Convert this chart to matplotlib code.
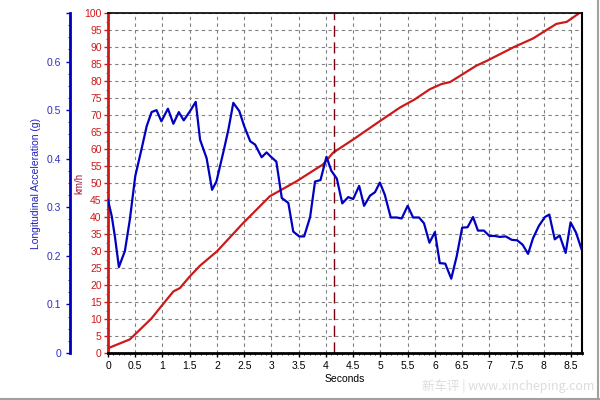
import matplotlib
matplotlib.use('Agg')
import matplotlib.pyplot as plt
from matplotlib.ticker import MultipleLocator
from matplotlib.lines import Line2D

# speed trace (km/h)
t_speed = [0, 0.4, 0.53, 0.8, 0.95, 1.2, 1.32, 1.5, 1.69, 2.0, 2.48, 2.97, 3.46,
           3.95, 4.13, 4.5, 4.99, 5.36, 5.63, 5.91, 6.12, 6.28, 6.76, 6.95, 7.44,
           7.8, 8.23, 8.42, 8.69]
speed = [1.4, 4.0, 6.0, 10.2, 13.2, 18.1, 19.1, 22.5, 25.7, 29.9, 38.2, 46.1, 50.5,
         55.5, 58.9, 62.8, 68.2, 72.2, 74.6, 77.6, 79.1, 79.7, 84.5, 85.9, 89.9,
         92.5, 96.8, 97.4, 100.4]

# longitudinal acceleration (g)
t_acc = [0, 0.07, 0.13, 0.2, 0.31, 0.4, 0.5, 0.62, 0.71, 0.8, 0.89, 0.98, 1.1, 1.2,
         1.3, 1.39, 1.5, 1.61, 1.69, 1.81, 1.91, 1.99, 2.12, 2.21, 2.3, 2.41, 2.5,
         2.61, 2.7, 2.82, 2.91, 3.0, 3.09, 3.19, 3.31, 3.4, 3.51, 3.6, 3.71, 3.8,
         3.9, 4.01, 4.1, 4.2, 4.3, 4.41, 4.5, 4.61, 4.7, 4.81, 4.9, 4.99, 5.08,
         5.19, 5.3, 5.39, 5.5, 5.6, 5.71, 5.8, 5.9, 6.0, 6.09, 6.19, 6.3, 6.4, 6.5,
         6.6, 6.7, 6.79, 6.9, 7.0, 7.1, 7.19, 7.3, 7.41, 7.51, 7.61, 7.71, 7.8,
         7.91, 8.02, 8.1, 8.2, 8.29, 8.4, 8.49, 8.59, 8.69]
accel = [0.315, 0.281, 0.237, 0.177, 0.210, 0.274, 0.364, 0.422, 0.467, 0.496, 0.500,
         0.477, 0.503, 0.472, 0.496, 0.479, 0.497, 0.517, 0.439, 0.401, 0.336, 0.353,
         0.415, 0.460, 0.515, 0.498, 0.467, 0.436, 0.429, 0.403, 0.413, 0.403, 0.394,
         0.319, 0.309, 0.250, 0.240, 0.240, 0.280, 0.353, 0.356, 0.404, 0.375, 0.359,
         0.308, 0.321, 0.317, 0.344, 0.303, 0.324, 0.331, 0.351, 0.326, 0.279, 0.279,
         0.277, 0.303, 0.279, 0.279, 0.267, 0.227, 0.249, 0.185, 0.184, 0.153, 0.199,
         0.258, 0.259, 0.280, 0.252, 0.252, 0.241, 0.241, 0.239, 0.240, 0.233, 0.232,
         0.223, 0.204, 0.236, 0.262, 0.280, 0.285, 0.234, 0.242, 0.206, 0.269, 0.248,
         0.214]

marker_t = 4.15

plt.rcParams['font.family'] = ['Liberation Sans', 'DejaVu Sans']
plt.rcParams['font.size'] = 7.5

RED = '#cc1a1a'
BLUE = '#0000c0'

fig = plt.figure(figsize=(6, 4), dpi=100)
ax = fig.add_axes([0.18, 0.1175, 0.79, 0.85])

ax.plot(t_speed, speed, color=RED, lw=1.6)
ax.axvline(marker_t, color='#7a0010', lw=1.0, dashes=(8, 4))
ax.set_xlim(0, 8.7)
ax.set_ylim(0, 100)
ax.xaxis.set_major_locator(MultipleLocator(0.5))
ax.xaxis.set_minor_locator(MultipleLocator(0.1))
ax.yaxis.set_major_locator(MultipleLocator(5))
ax.yaxis.set_minor_locator(MultipleLocator(2.5))
ax.xaxis.set_major_formatter(plt.FuncFormatter(lambda v, p: f'{v:g}'))
ax.grid(True, color='#808080', lw=0.8, dashes=(3, 3))
ax.tick_params(axis='y', colors=RED, labelcolor=RED, length=3, width=1, pad=1.5)
ax.tick_params(axis='y', which='minor', colors=RED, length=1.5)
ax.tick_params(axis='x', length=3, width=1, pad=3, colors='black')
ax.tick_params(axis='x', which='minor', length=1.5)
ax.set_xlabel('Seconds', labelpad=2)
ax.set_ylabel('km/h', color='#a01030', fontsize=7, labelpad=0)
ax.spines['left'].set_color(RED)
ax.spines['left'].set_linewidth(2)
ax.spines['bottom'].set_linewidth(2)
ax.spines['top'].set_linewidth(1.2)
ax.spines['right'].set_linewidth(1.5)

ax2 = ax.twinx()
ax2.plot(t_acc, accel, color=BLUE, lw=1.6)
ax2.set_ylim(0, 0.7)
ax2.yaxis.set_label_position('left')
ax2.yaxis.tick_left()
ax2.spines['left'].set_position(('outward', 27.4))
ax2.spines['left'].set_color(BLUE)
ax2.spines['left'].set_linewidth(2)
ax2.spines['right'].set_visible(False)
ax2.spines['top'].set_visible(False)
ax2.spines['bottom'].set_visible(False)
ax2.yaxis.set_major_locator(MultipleLocator(0.1))
ax2.yaxis.set_minor_locator(MultipleLocator(0.025))
ax2.yaxis.set_major_formatter(plt.FuncFormatter(lambda v, p: f'{v:g}' if v < 0.69 else ''))
ax2.tick_params(axis='y', colors=BLUE, labelcolor='#3030c0', length=3, width=1, pad=3.5)
ax2.tick_params(axis='y', which='minor', colors=BLUE, length=1.5)
ax2.set_ylabel('Longitudinal Acceleration (g)', color='#2020c0', labelpad=4)

# watermark and outer frame
fig.text(0.99, 0.035, '新车评 | www.xincheping.com', ha='right', va='center',
         color='#dcdcdc', fontsize=9, family=['Noto Sans CJK SC', 'DejaVu Sans'])
fig.add_artist(Line2D([0, 1], [0.003, 0.003], color='#a0a0a0', lw=1.5))
fig.add_artist(Line2D([0.997, 0.997], [0, 1], color='#a0a0a0', lw=1.5))

fig.savefig('out.png', dpi=100)
